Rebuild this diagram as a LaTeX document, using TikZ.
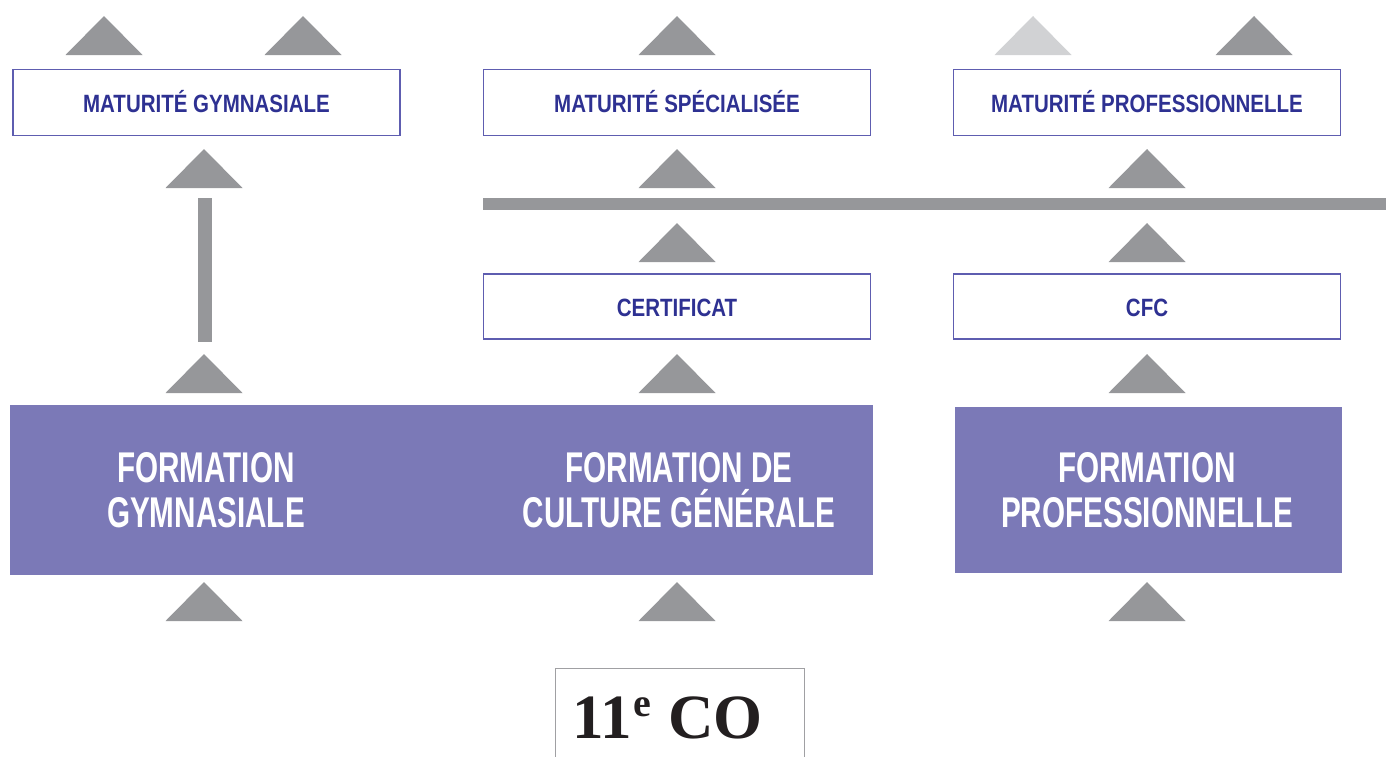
\documentclass[tikz,border=0pt]{standalone}
\usepackage{fontspec}
\setmainfont{Liberation Sans}
\newfontfamily\smallf[FakeStretch=0.82]{Liberation Sans}
\newfontfamily\bigf[FakeStretch=0.69]{Liberation Sans}
\newfontfamily\serf{Liberation Serif}
\definecolor{gr}{HTML}{96979A}
\definecolor{lgr}{HTML}{D1D2D4}
\definecolor{purp}{HTML}{7B79B7}
\definecolor{bord}{HTML}{5E5DB0}
\definecolor{txt}{HTML}{2E3192}
\definecolor{cobox}{HTML}{A0A0A3}
\definecolor{cotext}{HTML}{231F20}
\tikzset{
  outbox/.style={draw=bord, line width=1.5pt, fill=white, minimum width=387pt, minimum height=66pt, inner sep=0pt},
  outtext/.style={text=txt, font=\smallf\bfseries\fontsize{25}{27}\selectfont, inner sep=0pt, anchor=base},
  purpbox/.style={fill=purp, inner sep=0pt},
  bigtext/.style={text=white, font=\bigf\bfseries\fontsize{43}{45}\selectfont, align=center, inner sep=0pt},
  tri/.style={fill=gr},
  ltri/.style={fill=lgr},
  bar/.style={fill=gr}
}
\newcommand{\uptri}[3]{\fill[#3] (#1-38.5,#2) -- (#1,#2-39) -- (#1+38.5,#2) -- cycle;}
\begin{document}
\begin{tikzpicture}[x=1pt,y=-1pt]
\useasboundingbox (0,0) rectangle (1386,756);
% top row boxes
\node[outbox] (mg) at (206.5,102.5) {};
\node[outtext] (mgt) at (206.5,112) {MATURITÉ GYMNASIALE};
\node[outbox] (ms) at (677,102.5) {};
\node[outtext] (mst) at (677,112) {MATURITÉ SPÉCIALISÉE};
\node[outbox] (mp) at (1147,102.5) {};
\node[outtext] (mpt) at (1147,112) {MATURITÉ PROFESSIONNELLE};
% second row boxes
\node[outbox, minimum height=65pt] (cert) at (677,306.5) {};
\node[outtext] (certt) at (677,316) {CERTIFICAT};
\node[outbox, minimum height=65pt] (cfc) at (1147,306.5) {};
\node[outtext] (cfct) at (1147,316) {CFC};
% purple boxes
\node[purpbox, minimum width=863pt, minimum height=170pt] (fg) at (441.5,490) {};
\node[bigtext] (fgt) at (206,490) {FORMATION\\GYMNASIALE};
\node[bigtext] (fct) at (679,490) {FORMATION DE\\CULTURE GÉNÉRALE};
\node[purpbox, minimum width=387pt, minimum height=166pt] (fp) at (1148.5,490) {};
\node[bigtext] (fpt) at (1147,490) {FORMATION\\PROFESSIONNELLE};
% bars
\fill[bar] (483,198) rectangle (1386,210);
\fill[bar] (198,198) rectangle (212,342);
% triangles top row
\uptri{104}{55}{tri}
\uptri{303}{55}{tri}
\uptri{677}{55}{tri}
\uptri{1033}{55}{ltri}
\uptri{1254}{55}{tri}
% row 2
\uptri{204}{188}{tri}
\uptri{677}{188}{tri}
\uptri{1147}{188}{tri}
% row 3
\uptri{677}{262}{tri}
\uptri{1147}{262}{tri}
% row 4
\uptri{204}{393}{tri}
\uptri{677}{393}{tri}
\uptri{1147}{393}{tri}
% row 5
\uptri{204}{621}{tri}
\uptri{677}{621}{tri}
\uptri{1147}{621}{tri}
% 11e CO box
\draw[cobox, line width=1.2pt] (555.5,757) -- (555.5,668.5) -- (804.5,668.5) -- (804.5,757);
\node[inner sep=0pt, anchor=base west, text=cotext, font=\serf\bfseries\fontsize{63}{66}\selectfont] (co) at (572,738) {11\kern2pt\raisebox{22pt}{\fontsize{40}{40}\selectfont e}\kern1pt\ CO};
\end{tikzpicture}
\end{document}
